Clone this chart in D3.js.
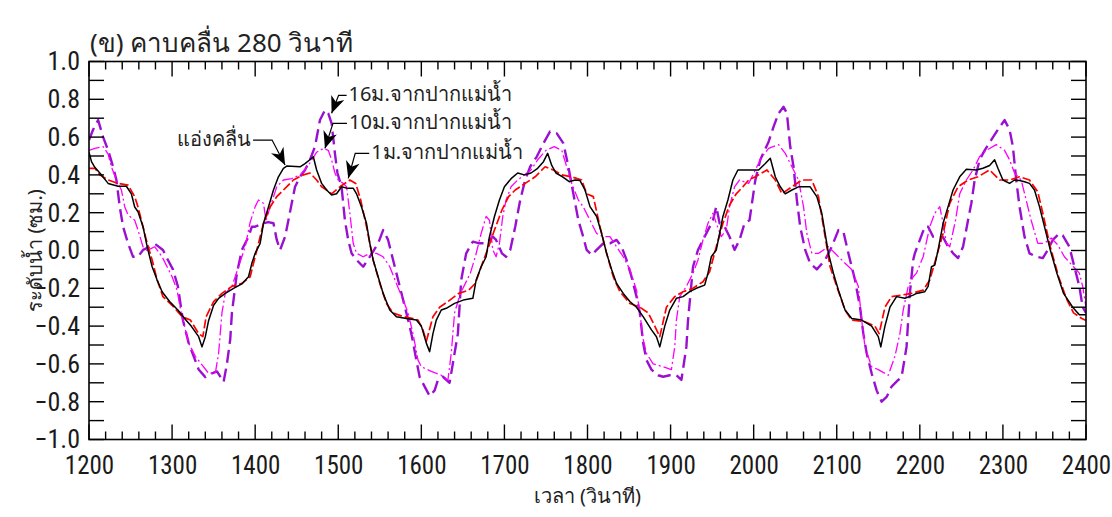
<!DOCTYPE html>
<html>
<head>
<meta charset="utf-8">
<script src="https://cdn.jsdelivr.net/npm/d3@7"></script>
<style>
  body { margin: 0; background: #fff; }
  svg { display: block; }
</style>
</head>
<body>
<svg id="svg" width="1112" height="517"></svg>
<script>
// water level, 280 s wave period; time (s) / level (cm)

var basinT = [1200,1203,1207,1213,1223,1235,1245,1251,1255,1259,1265,1270,1276,1282,1288,1297,1307,1315,1323,1332,1336,1340,1344,1350,1356,1364,1374,1384,1392,1396,1400,1406,1410,1416,1422,1428,1434,1438,1454,1460,1468,1470,1474,1480,1486,1492,1498,1504,1510,1518,1522,1528,1534,1538,1542,1548,1554,1562,1570,1582,1594,1600,1606,1610,1614,1618,1624,1630,1640,1652,1662,1666,1672,1678,1682,1688,1694,1700,1708,1716,1724,1732,1740,1747,1752,1757,1762,1770,1778,1785,1791,1797,1803,1811,1817,1823,1829,1835,1843,1851,1859,1867,1877,1883,1887,1893,1899,1907,1915,1923,1931,1941,1945,1949,1955,1959,1963,1969,1975,1981,1991,2006,2014,2020,2026,2032,2038,2046,2054,2068,2076,2082,2086,2090,2096,2102,2110,2118,2130,2142,2150,2153,2158,2164,2172,2182,2192,2196,2206,2210,2214,2218,2222,2228,2234,2240,2248,2256,2268,2276,2284,2290,2294,2300,2308,2314,2320,2326,2332,2338,2344,2350,2357,2365,2373,2385,2392,2400];
var basinV = [0.52,0.47,0.44,0.41,0.355,0.34,0.34,0.30,0.23,0.205,0.126,0.02,-0.086,-0.156,-0.218,-0.27,-0.315,-0.36,-0.40,-0.456,-0.51,-0.456,-0.37,-0.29,-0.253,-0.227,-0.20,-0.177,-0.139,-0.068,-0.015,0.038,0.144,0.23,0.32,0.39,0.435,0.447,0.443,0.46,0.488,0.496,0.426,0.355,0.32,0.294,0.30,0.337,0.33,0.33,0.30,0.23,0.144,0.038,-0.05,-0.139,-0.227,-0.315,-0.35,-0.36,-0.368,-0.40,-0.49,-0.535,-0.44,-0.368,-0.315,-0.306,-0.28,-0.26,-0.253,-0.156,-0.086,-0.033,0.073,0.18,0.267,0.337,0.38,0.41,0.40,0.41,0.435,0.47,0.514,0.45,0.41,0.39,0.364,0.373,0.37,0.32,0.232,0.18,0.09,-0.015,-0.10,-0.174,-0.227,-0.27,-0.30,-0.35,-0.42,-0.456,-0.51,-0.40,-0.315,-0.253,-0.244,-0.218,-0.20,-0.183,-0.12,-0.033,0.003,0.09,0.18,0.267,0.373,0.426,0.426,0.426,0.46,0.488,0.39,0.337,0.30,0.32,0.337,0.337,0.285,0.197,0.09,-0.015,-0.12,-0.21,-0.315,-0.36,-0.368,-0.40,-0.456,-0.51,-0.40,-0.30,-0.244,-0.253,-0.236,-0.227,-0.218,-0.19,-0.086,-0.077,0.003,0.144,0.232,0.32,0.39,0.43,0.426,0.435,0.45,0.48,0.435,0.373,0.355,0.373,0.37,0.364,0.355,0.32,0.232,0.126,0.003,-0.12,-0.227,-0.306,-0.34,-0.34];

var m1T = [1200,1207,1213,1223,1235,1247,1255,1259,1265,1270,1276,1282,1289,1300,1312,1322,1332,1337,1341,1350,1360,1372,1384,1394,1402,1410,1418,1426,1434,1446,1458,1466,1474,1480,1486,1492,1502,1514,1521,1527,1534,1542,1550,1558,1566,1578,1590,1596,1602,1606,1614,1622,1632,1645,1657,1665,1672,1681,1688,1697,1705,1713,1725,1737,1749,1759,1769,1781,1793,1799,1807,1815,1823,1831,1839,1851,1863,1873,1881,1887,1895,1905,1915,1927,1939,1947,1955,1963,1971,1979,1987,1994,2002,2016,2026,2034,2046,2058,2070,2078,2084,2092,2100,2110,2118,2134,2146,2151,2158,2166,2178,2190,2204,2212,2220,2228,2236,2246,2258,2270,2284,2296,2308,2320,2332,2342,2348,2357,2367,2377,2385,2395,2400];
var m1V = [0.435,0.435,0.40,0.373,0.355,0.346,0.285,0.23,0.126,0.038,-0.05,-0.156,-0.244,-0.29,-0.35,-0.368,-0.44,-0.456,-0.35,-0.27,-0.227,-0.19,-0.174,-0.139,0.003,0.144,0.23,0.285,0.32,0.373,0.40,0.41,0.373,0.337,0.32,0.30,0.337,0.373,0.355,0.267,0.126,-0.05,-0.174,-0.28,-0.33,-0.35,-0.36,-0.368,-0.42,-0.48,-0.35,-0.30,-0.27,-0.227,-0.21,-0.174,-0.086,0.02,0.108,0.214,0.285,0.32,0.355,0.39,0.443,0.426,0.40,0.39,0.373,0.30,0.285,0.126,-0.015,-0.139,-0.218,-0.28,-0.30,-0.33,-0.40,-0.456,-0.30,-0.244,-0.218,-0.20,-0.165,-0.112,0.02,0.144,0.24,0.30,0.337,0.373,0.39,0.426,0.373,0.30,0.337,0.373,0.373,0.285,0.126,-0.086,-0.19,-0.315,-0.368,-0.377,-0.40,-0.44,-0.30,-0.244,-0.236,-0.227,-0.21,-0.156,-0.033,0.09,0.25,0.337,0.373,0.39,0.426,0.373,0.373,0.39,0.373,0.31,0.197,0.02,-0.139,-0.26,-0.33,-0.36,-0.37];

var m10T = [1200,1207,1217,1223,1227,1233,1239,1243,1247,1255,1259,1265,1270,1279,1288,1300,1306,1311,1320,1328,1336,1344,1352,1356,1360,1364,1372,1380,1388,1394,1400,1404,1410,1413,1418,1426,1434,1444,1454,1464,1474,1482,1488,1492,1496,1500,1506,1510,1514,1518,1522,1530,1538,1546,1554,1562,1570,1578,1584,1590,1596,1600,1612,1624,1632,1636,1640,1647,1653,1659,1665,1672,1678,1682,1686,1690,1694,1698,1702,1708,1716,1724,1732,1740,1750,1760,1769,1775,1781,1789,1795,1803,1811,1819,1827,1835,1843,1851,1859,1863,1867,1871,1879,1891,1901,1905,1907,1911,1919,1927,1933,1939,1945,1951,1955,1961,1967,1971,1977,1983,1994,2002,2010,2018,2030,2038,2046,2054,2060,2064,2070,2078,2090,2098,2110,2118,2126,2130,2134,2142,2150,2162,2170,2176,2180,2186,2192,2196,2204,2212,2218,2224,2228,2232,2236,2243,2248,2256,2264,2272,2280,2292,2302,2308,2314,2322,2328,2334,2342,2350,2358,2366,2374,2385,2392,2396,2400];
var m10V = [0.53,0.54,0.55,0.51,0.443,0.373,0.32,0.232,0.188,0.16,0.108,0.02,0.0,0.02,-0.033,-0.139,-0.21,-0.33,-0.49,-0.56,-0.605,-0.65,-0.65,-0.544,-0.33,-0.227,-0.19,-0.086,0.02,0.15,0.232,0.267,0.25,0.16,0.23,0.337,0.373,0.38,0.40,0.45,0.52,0.54,0.53,0.48,0.41,0.373,0.355,0.337,0.197,0.038,-0.015,-0.033,-0.015,-0.015,-0.033,-0.086,-0.174,-0.26,-0.33,-0.44,-0.58,-0.615,-0.64,-0.66,-0.685,-0.544,-0.33,-0.227,-0.174,-0.12,-0.033,0.09,0.18,0.16,0.003,-0.033,0.038,0.18,0.267,0.337,0.373,0.40,0.426,0.48,0.53,0.55,0.53,0.443,0.355,0.267,0.23,0.16,0.09,0.073,0.073,0.02,-0.033,-0.10,-0.21,-0.33,-0.47,-0.544,-0.60,-0.615,-0.63,-0.51,-0.368,-0.244,-0.19,-0.12,-0.05,0.056,0.144,0.197,0.144,0.073,0.108,0.232,0.337,0.373,0.355,0.426,0.497,0.54,0.56,0.514,0.443,0.373,0.232,0.09,-0.015,-0.015,0.02,-0.015,-0.068,-0.10,-0.19,-0.368,-0.51,-0.615,-0.63,-0.66,-0.56,-0.44,-0.315,-0.19,-0.139,-0.12,-0.033,0.126,0.197,0.232,0.144,0.038,0.02,0.16,0.30,0.373,0.426,0.497,0.53,0.56,0.53,0.48,0.41,0.373,0.267,0.16,0.038,0.038,0.066,0.03,-0.033,-0.086,-0.12,-0.19,-0.30];

var m16T = [1200,1205,1211,1217,1223,1229,1233,1237,1241,1247,1253,1259,1265,1273,1281,1289,1295,1301,1307,1313,1320,1326,1332,1340,1348,1354,1362,1366,1370,1372,1378,1384,1392,1396,1400,1410,1416,1422,1426,1430,1436,1440,1444,1448,1454,1460,1466,1472,1478,1484,1488,1492,1496,1499,1504,1508,1512,1516,1522,1530,1538,1548,1554,1560,1566,1574,1582,1588,1594,1598,1604,1610,1616,1620,1626,1634,1640,1644,1648,1654,1662,1670,1678,1686,1690,1697,1702,1707,1713,1719,1725,1731,1739,1747,1755,1763,1771,1777,1783,1789,1795,1799,1805,1811,1819,1827,1835,1841,1847,1853,1859,1863,1867,1871,1877,1885,1891,1899,1907,1913,1919,1921,1927,1933,1939,1945,1951,1955,1959,1965,1971,1977,1983,1989,1995,2002,2008,2018,2024,2030,2036,2040,2044,2048,2052,2056,2062,2068,2076,2086,2094,2102,2108,2114,2122,2128,2132,2136,2142,2148,2154,2160,2166,2174,2178,2184,2188,2192,2194,2200,2206,2210,2216,2222,2228,2234,2240,2246,2252,2258,2262,2266,2272,2278,2286,2294,2302,2308,2312,2316,2320,2326,2332,2340,2348,2354,2360,2368,2372,2380,2386,2392,2396,2400];
var m16V = [0.585,0.64,0.69,0.60,0.53,0.443,0.373,0.232,0.126,0.038,-0.033,-0.033,0.003,0.02,0.03,0.003,-0.05,-0.10,-0.19,-0.368,-0.49,-0.56,-0.63,-0.67,-0.65,-0.64,-0.695,-0.60,-0.47,-0.33,-0.12,0.003,0.073,0.126,0.126,0.144,0.15,0.144,0.056,0.003,0.073,0.16,0.25,0.337,0.39,0.426,0.48,0.55,0.69,0.743,0.726,0.673,0.514,0.41,0.337,0.16,0.056,-0.015,-0.05,-0.086,-0.033,0.038,0.108,0.056,-0.05,-0.19,-0.33,-0.44,-0.58,-0.67,-0.72,-0.77,-0.74,-0.685,-0.668,-0.70,-0.544,-0.44,-0.156,-0.015,0.047,0.038,0.038,0.073,0.056,-0.015,-0.033,0.003,0.126,0.267,0.373,0.443,0.497,0.567,0.63,0.62,0.567,0.443,0.30,0.16,0.07,0.003,-0.024,0.003,0.038,0.038,0.056,0.02,-0.05,-0.139,-0.244,-0.33,-0.49,-0.58,-0.63,-0.66,-0.668,-0.66,-0.66,-0.685,-0.51,-0.368,-0.086,0.003,0.056,0.108,0.16,0.232,0.144,0.126,0.073,0.003,0.056,0.144,0.16,0.373,0.48,0.576,0.655,0.726,0.76,0.726,0.55,0.443,0.267,0.126,0.003,-0.068,-0.10,-0.05,0.02,0.108,0.10,-0.015,-0.156,-0.30,-0.44,-0.544,-0.65,-0.74,-0.80,-0.775,-0.72,-0.685,-0.67,-0.51,-0.227,-0.05,-0.015,0.056,0.126,0.126,0.073,0.07,0.07,0.02,-0.015,-0.04,0.02,0.16,0.25,0.373,0.48,0.53,0.585,0.64,0.69,0.64,0.55,0.373,0.232,0.073,-0.015,-0.033,-0.04,0.003,0.056,0.09,0.08,0.02,-0.086,-0.19,-0.30,-0.33];

var xTickValues = d3.range(1200, 2401, 100);
var yTickValues = [-1.0,-0.8,-0.6,-0.4,-0.2,0.0,0.2,0.4,0.6,0.8,1.0];

var annoLabels = ["แอ่งคลื่น", "16ม.จากปากแม่น้ำ", "10ม.จากปากแม่น้ำ", "1ม.จากปากแม่น้ำ"];
var annoT = [1436, 1492, 1484, 1512];
var annoV = [0.452, 0.726, 0.54, 0.382];

var titleText = "(ข) คาบคลื่น 280 วินาที";
var xTitle = "เวลา (วินาที)";
var yTitle = "ระดับน้ำ (ซม.)";

var svg = d3.select('#svg'),
	plotLeft = 89, plotRight = 1086, plotTop = 61.5, plotBottom = 439.5,
	numFont = "'Liberation Sans Narrow', 'Roboto Condensed', 'DejaVu Sans Condensed', sans-serif",
	thaiFont = "'Noto Sans', 'DejaVu Sans', sans-serif";

var x = d3.scaleLinear().domain([1200, 2400]).range([plotLeft, plotRight]);
var y = d3.scaleLinear().domain([-1, 1]).range([plotBottom, plotTop]);

function zip(ts, vs){
	return ts.map(function(t, i){ return [t, vs[i]]; });
}

var line = d3.line()
	.x(function(d){ return x(d[0]); })
	.y(function(d){ return y(d[1]); });

var series = [
	{ data: zip(m16T, m16V), stroke: '#9a10d0', width: 2.4, dash: '13,6' },
	{ data: zip(m10T, m10V), stroke: '#ff00ff', width: 1.3, dash: '11,3,2,3' },
	{ data: zip(m1T, m1V), stroke: '#ff0000', width: 1.7, dash: '9,3' },
	{ data: zip(basinT, basinV), stroke: '#000000', width: 1.5, dash: null }
];

svg.append('clipPath').attr('id', 'clip')
	.append('rect')
	.attr('x', plotLeft).attr('y', plotTop)
	.attr('width', plotRight - plotLeft).attr('height', plotBottom - plotTop);

svg.append('g').attr('clip-path', 'url(#clip)')
	.selectAll('path')
	.data(series)
	.enter()
	.append('path')
	.attr('d', function(s){ return line(s.data); })
	.attr('fill', 'none')
	.attr('stroke', function(s){ return s.stroke; })
	.attr('stroke-width', function(s){ return s.width; })
	.attr('stroke-dasharray', function(s){ return s.dash; })
	.attr('stroke-linejoin', 'round');

// axes: ticks point inward on all four sides
var xMinor = d3.range(1200, 2401, 20);
var yMinor = d3.range(-10, 11).map(function(v){ return v / 10; });

var axisBottom = d3.axisBottom(x).tickValues(xTickValues).tickSize(0).tickPadding(17).tickFormat(d3.format('d'));
var gx = svg.append('g').attr('transform', 'translate(0,' + plotBottom + ')').call(axisBottom);
gx.select('.domain').remove();
gx.selectAll('text').attr('font-family', numFont).attr('font-size', 25).attr('fill', '#1a1a1a');

var axisLeft = d3.axisLeft(y).tickValues(yTickValues).tickSize(0).tickPadding(9).tickFormat(d3.format('.1f'));
var gy = svg.append('g').attr('transform', 'translate(' + plotLeft + ',0)').call(axisLeft);
gy.select('.domain').remove();
gy.selectAll('text').attr('font-family', numFont).attr('font-size', 26).attr('fill', '#1a1a1a');

var ticks = svg.append('g').attr('stroke', '#000').attr('stroke-width', 1.4);
xMinor.forEach(function(t){
	var len = (t % 100 === 0) ? 15 : 8;
	ticks.append('line').attr('x1', x(t)).attr('x2', x(t)).attr('y1', plotBottom).attr('y2', plotBottom - len);
	ticks.append('line').attr('x1', x(t)).attr('x2', x(t)).attr('y1', plotTop).attr('y2', plotTop + len);
});
yMinor.forEach(function(v){
	ticks.append('line').attr('x1', plotLeft).attr('x2', plotLeft + 15).attr('y1', y(v)).attr('y2', y(v));
	ticks.append('line').attr('x1', plotRight).attr('x2', plotRight - 15).attr('y1', y(v)).attr('y2', y(v));
});

svg.append('rect')
	.attr('x', plotLeft).attr('y', plotTop)
	.attr('width', plotRight - plotLeft).attr('height', plotBottom - plotTop)
	.attr('fill', 'none').attr('stroke', '#000').attr('stroke-width', 1.6);

// annotation arrows
var annoOffsets = [
	{ ex: -13, ey: -25, lx: -32, side: 'end' },
	{ ex: 7, ey: -18, lx: 15, side: 'start' },
	{ ex: 8, ey: -25, lx: 22, side: 'start' },
	{ ex: 7, ey: -25, lx: 21, side: 'start' }
];

var anno = svg.append('g');
annoLabels.forEach(function(label, i){
	var o = annoOffsets[i],
		tx = x(annoT[i]), ty = y(annoV[i]),
		ex = tx + o.ex, ey = ty + o.ey,
		lx = tx + o.lx;

	anno.append('path')
		.attr('d', 'M' + lx + ',' + ey + 'L' + ex + ',' + ey + 'L' + tx + ',' + ty)
		.attr('fill', 'none').attr('stroke', '#000').attr('stroke-width', 1.2);

	var ang = Math.atan2(ty - ey, tx - ex) * 180 / Math.PI;
	anno.append('path')
		.attr('d', 'M0,0L-17,-7L-12,0L-17,7Z')
		.attr('transform', 'translate(' + tx + ',' + ty + ') rotate(' + ang + ')')
		.attr('fill', '#000');

	anno.append('text')
		.attr('x', o.side === 'end' ? lx - 2 : lx + 2)
		.attr('y', ey + 6)
		.attr('text-anchor', o.side)
		.attr('font-family', thaiFont)
		.attr('font-size', 20)
		.attr('fill', '#222')
		.text(label);
});

svg.append('text')
	.attr('x', 90).attr('y', 52)
	.attr('font-family', thaiFont).attr('font-size', 26).attr('fill', '#222')
	.text(titleText);

svg.append('text')
	.attr('x', (plotLeft + plotRight) / 2).attr('y', 503)
	.attr('text-anchor', 'middle')
	.attr('font-family', thaiFont).attr('font-size', 20).attr('fill', '#222')
	.text(xTitle);

svg.append('text')
	.attr('transform', 'translate(42,' + ((plotTop + plotBottom) / 2) + ') rotate(-90)')
	.attr('text-anchor', 'middle')
	.attr('font-family', thaiFont).attr('font-size', 20).attr('fill', '#222')
	.text(yTitle);
</script>
</body>
</html>
